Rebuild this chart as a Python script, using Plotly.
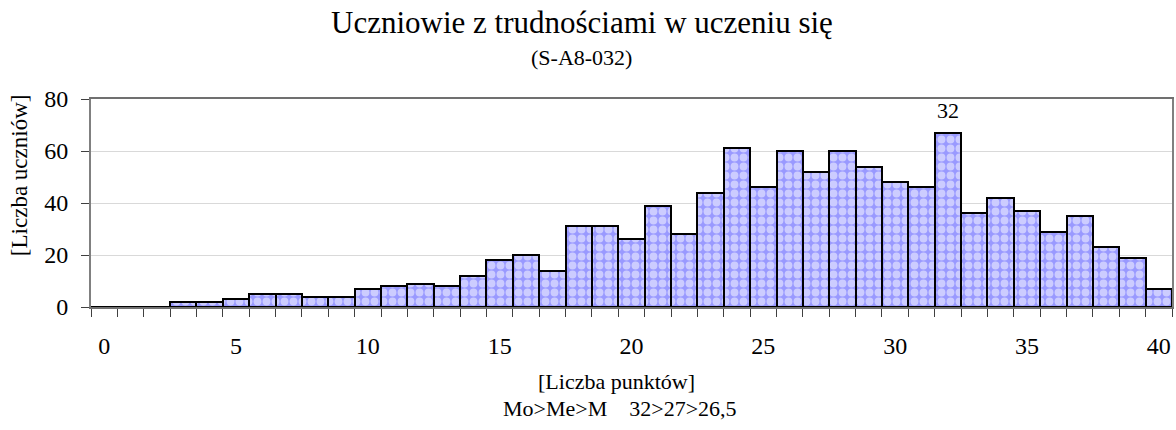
import plotly.graph_objects as go

points = list(range(0, 41))
students = [0, 0, 0, 2, 2, 3, 5, 5, 4, 4,
            7, 8, 9, 8, 12, 18, 20, 14, 31, 31,
            26, 39, 28, 44, 61, 46, 60, 52, 60, 54,
            48, 46, 67, 36, 42, 37, 29, 35, 23, 19, 7]
x_ticks = [0, 5, 10, 15, 20, 25, 30, 35, 40]
y_ticks = [0, 20, 40, 60, 80]
mode_value = 32
title = "Uczniowie z trudnościami w uczeniu się"
subtitle = "(S-A8-032)"
x_title = "[Liczba punktów]"
y_title = "[Liczba uczniów]"
stats_text = "Mo>Me>M    32>27>26,5"

FONT = "Liberation Serif"
L, R, T, B = 91, 1174, 99, 307
PW, PH = R - L, B - T


def px(xp):
    return (xp - L) / PW


def py(yp):
    return (B - yp) / PH


fig = go.Figure()
fig.add_trace(go.Bar(
    x=points, y=students, width=1,
    marker=dict(
        color="#9999FF",
        line=dict(color="black", width=2),
        pattern=dict(shape=".", fgcolor="white", bgcolor="#9999FF", size=9, solidity=0.6),
    ),
    showlegend=False,
))

fig.add_annotation(x=mode_value, y=students[points.index(mode_value)], yshift=8,
                   text=str(mode_value), showarrow=False, yanchor="bottom",
                   font=dict(family=FONT, size=22, color="black"))

fig.add_annotation(xref="paper", yref="paper", x=px(583), y=py(22),
                   text=title, showarrow=False, yanchor="middle",
                   font=dict(family=FONT, size=31, color="black"))
fig.add_annotation(xref="paper", yref="paper", x=px(582), y=py(57),
                   text=subtitle, showarrow=False, yanchor="middle",
                   font=dict(family=FONT, size=22, color="black"))
fig.add_annotation(xref="paper", yref="paper", x=px(617), y=py(381),
                   text=x_title, showarrow=False, yanchor="middle",
                   font=dict(family=FONT, size=22, color="black"))
fig.add_annotation(xref="paper", yref="paper", x=px(621), y=py(408),
                   text=stats_text, showarrow=False, yanchor="middle",
                   font=dict(family=FONT, size=22, color="black"))
fig.add_annotation(xref="paper", yref="paper", x=px(19), y=py(175),
                   text=y_title, showarrow=False, textangle=-90,
                   xanchor="center", yanchor="middle",
                   font=dict(family=FONT, size=23, color="black"))

fig.update_layout(
    width=1176, height=430,
    margin=dict(l=L, r=1176 - R, t=T, b=430 - B),
    paper_bgcolor="white", plot_bgcolor="white",
    bargap=0,
    font=dict(family=FONT, size=24, color="black"),
    xaxis=dict(
        range=[-0.5, 40.5], tickvals=x_ticks, ticks="", ticklen=0,
        showgrid=False, zeroline=False,
        showline=True, linecolor="#707070", linewidth=2, mirror=True,
        ticklabelstandoff=16,
        minor=dict(tickvals=[k + 0.5 for k in range(-1, 41)], ticks="outside",
                   ticklen=8, tickcolor="#404040", tickwidth=1, showgrid=False),
    ),
    yaxis=dict(
        range=[0, 80], tickvals=y_ticks, ticks="outside", ticklen=8,
        tickcolor="#404040", showgrid=True, gridcolor="#D9D9D9", gridwidth=1,
        zeroline=False, showline=True, linecolor="#808080", linewidth=2, mirror=True,
        ticklabelstandoff=8,
    ),
)

fig.write_html("out.html", config={"displayModeBar": False},
               post_script="document.body.style.margin='0';document.body.style.overflow='hidden';")
